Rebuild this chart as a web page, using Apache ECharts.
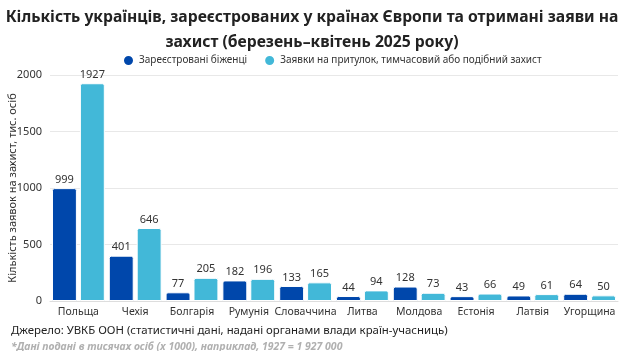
<!DOCTYPE html>
<html>
<head>
<meta charset="utf-8">
<script src="https://cdn.jsdelivr.net/npm/echarts@6/dist/echarts.min.js"></script>
<style>
  html, body { margin: 0; padding: 0; background: #fff; }
  #chart { width: 624px; height: 351px; }
</style>
</head>
<body>
<div id="chart"></div>
<script>
// Дані (тис. осіб)
const countries = ["Польща", "Чехія", "Болгарія", "Румунія", "Словаччина", "Литва", "Молдова", "Естонія", "Латвія", "Угорщина"];
const refugees = [999, 401, 77, 182, 133, 44, 128, 43, 49, 64];
const applications = [1927, 646, 205, 196, 165, 94, 73, 66, 61, 50];
const yTicks = [0, 500, 1000, 1500, 2000];

const chart = echarts.init(document.getElementById("chart"));
const font = "Noto Sans";

const option = {
  backgroundColor: "#fff",
  textStyle: { fontFamily: font },
  title: [
    {
      text: "Кількість українців, зареєстрованих у країнах Європи та отримані заяви на\nзахист (березень–квітень 2025 року)",
      left: "center",
      top: 0,
      textStyle: { fontFamily: font, fontSize: 15.7, fontWeight: "bold", color: "#222", lineHeight: 25, align: "center" },
    },
    {
      text: "Джерело: УВКБ ООН (статистичні дані, надані органами влади країн-учасниць)",
      left: 6,
      top: 320,
      textStyle: { fontFamily: font, fontSize: 11.4, fontWeight: "normal", color: "#222" },
    },
    {
      text: "*Дані подані в тисячах осіб (x 1000), наприклад, 1927 = 1 927 000",
      left: 6,
      top: 337,
      textStyle: { fontFamily: font, fontSize: 10.5, fontWeight: "bold", fontStyle: "italic", color: "#b0b0b0" },
    },
  ],
  legend: {
    top: 49,
    left: 117,
    itemGap: 16,
    icon: "circle",
    itemWidth: 11,
    itemHeight: 11,
    textStyle: { fontFamily: font, fontSize: 10, color: "#333" },
  },
  grid: { left: 50, right: 6, top: 75, bottom: 50, outerBoundsMode: "none", containLabel: false },
  xAxis: {
    type: "category",
    data: countries,
    axisTick: { show: false },
    axisLine: { lineStyle: { color: "#ddd" } },
    axisLabel: { fontFamily: font, fontSize: 10.5, color: "#333", margin: 6, interval: 0 },
  },
  yAxis: {
    type: "value",
    min: yTicks[0],
    max: yTicks[yTicks.length - 1],
    interval: 500,
    name: "Кількість заявок на захист, тис. осіб",
    nameLocation: "middle",
    nameGap: 32,
    nameMoveOverlap: false,
    nameTextStyle: { fontFamily: font, fontSize: 11, color: "#333" },
    axisLabel: { fontFamily: font, fontSize: 11, color: "#333", margin: 8, formatter: (v) => String(v) },
    splitLine: { lineStyle: { color: "#e8e8e8" } },
  },
  series: [
    {
      name: "Зареєстровані біженці",
      type: "bar",
      data: refugees,
      barGap: "12%",
      barCategoryGap: "7%",
      itemStyle: { color: "#0047ab", borderRadius: [2, 2, 0, 0], borderColor: "#fff", borderWidth: 1 },
      label: { show: true, position: "top", distance: 3, fontFamily: font, fontSize: 11, color: "#333" },
    },
    {
      name: "Заявки на притулок, тимчасовий або подібний захист",
      type: "bar",
      data: applications,
      itemStyle: { color: "#42b8d8", borderRadius: [2, 2, 0, 0], borderColor: "#fff", borderWidth: 1 },
      label: { show: true, position: "top", distance: 3, fontFamily: font, fontSize: 11, color: "#333" },
    },
  ],
};

chart.setOption(option);
window.addEventListener("resize", () => chart.resize());
</script>
</body>
</html>
